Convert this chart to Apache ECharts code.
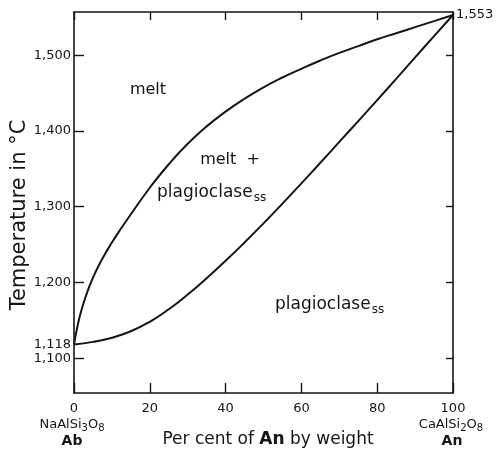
<!DOCTYPE html>
<html>
<head>
<meta charset="utf-8">
<script src="https://cdn.jsdelivr.net/npm/echarts@6/dist/echarts.min.js"></script>
<style>html,body{margin:0;padding:0;background:#fff}#c{width:500px;height:450px}</style>
</head>
<body>
<div id="c"></div>
<script>
// Per cent An (by weight) and temperatures (°C)
const liquidusAn = [0, 1, 2, 4, 6, 8, 10, 12, 15, 20, 25, 30, 35, 40, 45, 50, 55, 60, 65, 70, 75, 80, 85, 90, 95, 100];
const liquidusT  = [1118, 1144, 1164, 1194, 1217, 1236, 1252.6, 1268, 1290, 1325, 1356, 1383, 1406, 1425.5, 1442.5, 1457.5, 1470.5, 1482, 1493, 1503, 1512, 1521, 1529, 1537, 1545, 1553];
const solidusAn  = [0, 5, 10, 15, 20, 25, 30, 35, 40, 45, 50, 55, 60, 65, 70, 75, 80, 85, 90, 95, 100];
const solidusT   = [1118, 1121.5, 1127, 1135.5, 1148, 1164.5, 1184, 1205.5, 1228.5, 1252.75, 1278, 1304, 1330.75, 1358, 1385.5, 1413, 1440.75, 1468.75, 1497, 1525.25, 1553];
const yTicks = [1100, 1200, 1300, 1400, 1500];
const yLeftLabels = [1100, 1118, 1200, 1300, 1400, 1500];
const yRightLabels = [1553];

const FONT = 'DejaVu Sans';
const INK = '#151515';
const fmt = v => Number(v).toLocaleString('en-US');

const chart = echarts.init(document.getElementById('c'), null, {renderer: 'canvas'});

const axisLine = {show: true, onZero: false, lineStyle: {color: INK, width: 1.6}};

const sub = {fontFamily: FONT, fontSize: 10, fill: INK, padding: [7, 0, 0, 0], lineHeight: 10};
const formula = (t) => ({
  text: t,
  rich: {
    m: {fontFamily: FONT, fontSize: 13, fill: INK, lineHeight: 16},
    s: sub
  }
});

chart.setOption({
  animation: false,
  backgroundColor: '#fff',
  grid: {left: 74, right: 47, top: 12, bottom: 57},
  xAxis: [
    {
      type: 'value', min: 0, max: 100, interval: 20, position: 'bottom',
      axisLine: axisLine,
      axisTick: {show: true, inside: true, length: 10, lineStyle: {color: INK, width: 1.4}},
      axisLabel: {margin: 9, fontFamily: FONT, fontSize: 13, color: INK},
      splitLine: {show: false}
    },
    {
      type: 'value', min: 0, max: 100, interval: 20, position: 'top',
      axisLine: axisLine,
      axisTick: {show: true, inside: true, length: 8, lineStyle: {color: INK, width: 1.4}},
      axisLabel: {show: false},
      splitLine: {show: false}
    }
  ],
  yAxis: [
    {
      type: 'value', min: 1054, max: 1557, position: 'left',
      axisLine: axisLine,
      axisTick: {show: true, inside: true, length: 10, customValues: yTicks, lineStyle: {color: INK, width: 1.4}},
      axisLabel: {show: true, margin: 3, customValues: yLeftLabels, formatter: fmt, fontFamily: FONT, fontSize: 13, color: INK},
      splitLine: {show: false}
    },
    {
      type: 'value', min: 1054, max: 1557, position: 'right',
      axisLine: axisLine,
      axisTick: {show: true, inside: true, length: 7, customValues: yTicks, lineStyle: {color: INK, width: 1.4}},
      axisLabel: {show: true, margin: 3, customValues: yRightLabels, formatter: fmt, fontFamily: FONT, fontSize: 13, color: INK},
      splitLine: {show: false}
    }
  ],
  series: [
    {
      name: 'liquidus', type: 'line', xAxisIndex: 0, yAxisIndex: 0,
      data: liquidusAn.map((a, i) => [a, liquidusT[i]]),
      smooth: 0.5, showSymbol: false, symbol: 'none',
      lineStyle: {color: INK, width: 2}
    },
    {
      name: 'solidus', type: 'line', xAxisIndex: 0, yAxisIndex: 0,
      data: solidusAn.map((a, i) => [a, solidusT[i]]),
      smooth: 0.5, showSymbol: false, symbol: 'none',
      lineStyle: {color: INK, width: 2}
    }
  ],
  graphic: [
    {type: 'text', x: 20, y: 215, rotation: Math.PI / 2,
     style: {text: 'Temperature in °C', fontFamily: FONT, fontSize: 21, fill: INK, align: 'center', verticalAlign: 'middle'}},
    {type: 'text', x: 148, y: 90,
     style: {text: 'melt', fontFamily: FONT, fontSize: 16, fill: INK, align: 'center', verticalAlign: 'middle'}},
    {type: 'text', x: 230, y: 160,
     style: {text: 'melt  +', fontFamily: FONT, fontSize: 16, fill: INK, align: 'center', verticalAlign: 'middle'}},
    {type: 'text', x: 157, y: 193,
     style: {text: '{a|plagioclase}{s|ss}', align: 'left', verticalAlign: 'middle',
       rich: {a: {fontFamily: FONT, fontSize: 17, fill: INK, lineHeight: 20},
              s: {fontFamily: FONT, fontSize: 12, fill: INK, padding: [9, 0, 0, 1], lineHeight: 12}}}},
    {type: 'text', x: 275, y: 305,
     style: {text: '{a|plagioclase}{s|ss}', align: 'left', verticalAlign: 'middle',
       rich: {a: {fontFamily: FONT, fontSize: 17, fill: INK, lineHeight: 20},
              s: {fontFamily: FONT, fontSize: 12, fill: INK, padding: [9, 0, 0, 1], lineHeight: 12}}}},
    {type: 'text', x: 72, y: 425,
     style: Object.assign(formula('{m|NaAlSi}{s|3}{m|O}{s|8}'), {align: 'center', verticalAlign: 'middle'})},
    {type: 'text', x: 72, y: 441,
     style: {text: 'Ab', fontFamily: FONT, fontSize: 14, fontWeight: 'bold', fill: INK, align: 'center', verticalAlign: 'middle'}},
    {type: 'text', x: 451, y: 425,
     style: Object.assign(formula('{m|CaAlSi}{s|2}{m|O}{s|8}'), {align: 'center', verticalAlign: 'middle'})},
    {type: 'text', x: 452, y: 441,
     style: {text: 'An', fontFamily: FONT, fontSize: 14, fontWeight: 'bold', fill: INK, align: 'center', verticalAlign: 'middle'}},
    {type: 'text', x: 268, y: 440,
     style: {text: '{n|Per cent of }{b|An}{n| by weight}', align: 'center', verticalAlign: 'middle',
       rich: {n: {fontFamily: FONT, fontSize: 17, fill: INK},
              b: {fontFamily: FONT, fontSize: 17, fontWeight: 'bold', fill: INK}}}}
  ]
});
</script>
</body>
</html>
